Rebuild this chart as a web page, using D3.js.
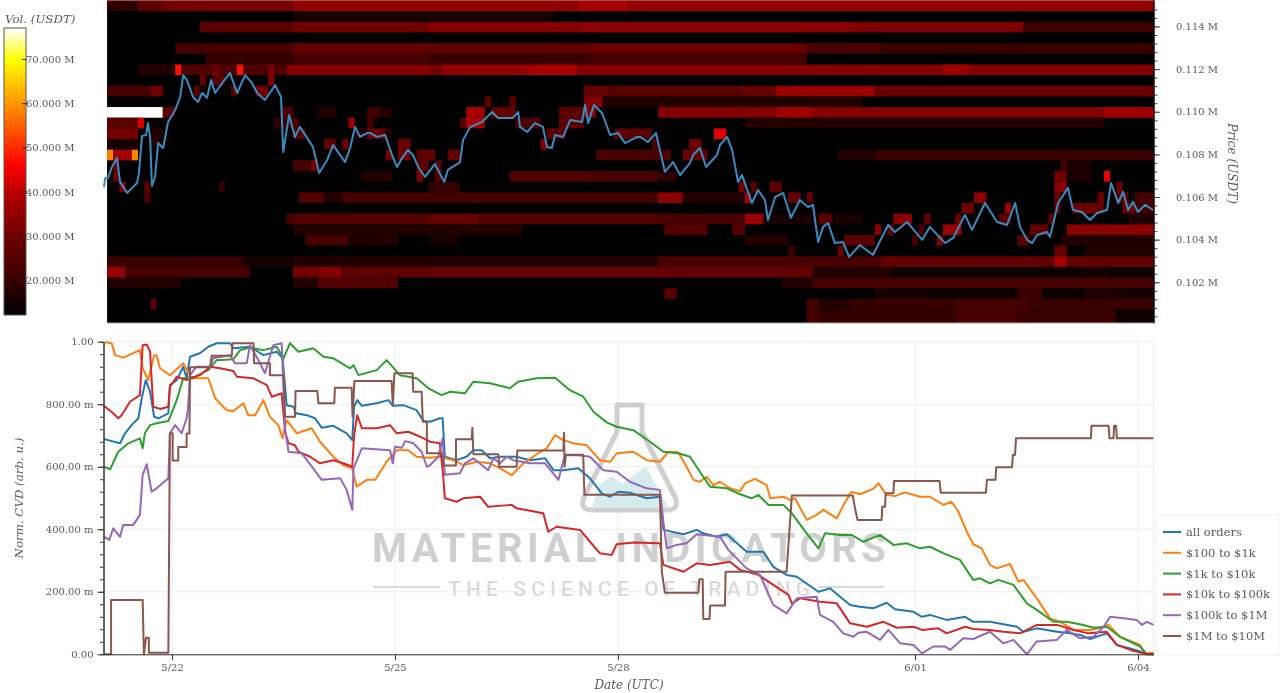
<!DOCTYPE html>
<html>
<head>
<meta charset="utf-8">
<script src="https://cdn.jsdelivr.net/npm/d3@7/dist/d3.min.js"></script>
<style>
html,body{margin:0;padding:0;background:#fff;overflow:hidden}
svg{display:block;filter:blur(0.45px)}
text{font-family:"DejaVu Serif",serif;fill:#5a5a5a}
.wm{font-family:Roboto,sans-serif}
</style>
</head>
<body>
<svg id="c" width="1280" height="693"></svg>
<script>
// ---------- data (hours are counted from 5/22 00:00 UTC) ----------
const dateTicks = [["5/22",0],["5/25",72],["5/28",144],["6/01",240],["6/04",312]];
const priceTicks = [102000,104000,106000,108000,110000,112000,114000];
const volTicks = [20,30,40,50,60,70];
const cvdTicks = [0,.2,.4,.6,.8,1];
const cvdLabels = ["0.00","200.00 m","400.00 m","600.00 m","800.00 m","1.00"];
const seriesNames = ["all orders","$100 to $1k","$1k to $10k","$10k to $100k","$100k to $1M","$1M to $10M"];
const seriesColors = ["#1f77b4","#ff7f0e","#2ca02c","#d62728","#9467bd","#8c564b"];

// [hour, price USDT]
const price = [[-22,106470],[-21.6,106890],[-20.7,106890],[-19.4,107410],[-17.8,107830],[-16.8,106710],[-14.5,106190],[-12.9,106420],[-11.3,106660],[-10.7,107130],[-9.7,108860],[-8.4,108910],[-7.8,109470],[-7.1,108820],[-6.5,106520],[-5.5,106940],[-4.5,108530],[-2.9,108300],[-1.3,109520],[1,110080],[2.6,110690],[3.6,111720],[4.8,111490],[6.8,110690],[8.4,110460],[9.7,110880],[11.3,110650],[12.6,111490],[13.9,110880],[16.2,111350],[18.7,111820],[21,110880],[23.6,111720],[25.8,111350],[27.5,110880],[30,110550],[33.3,111250],[35.2,110690],[35.9,108110],[37.8,109850],[39.7,108820],[41.3,109290],[45.5,108350],[47.5,107130],[50.1,107740],[52,108440],[55.9,107640],[57.5,108300],[59.1,109290],[60.7,108820],[63,109000],[64,109000],[66.2,108820],[68.8,108910],[71.4,107830],[72.7,107410],[74.3,107830],[76.2,108210],[77.8,107970],[79.5,107410],[81.7,106940],[84.9,107550],[87.9,106710],[89.1,107270],[93,107640],[94,108680],[96.3,109290],[100.1,109520],[103.4,109990],[105.3,109710],[110.1,109710],[111.8,109990],[112.4,109290],[114.7,109050],[117.2,109470],[119.8,109290],[121.1,108350],[122.7,108300],[123.7,108910],[126.3,108820],[128.6,109610],[132.4,109520],[133.4,110320],[134.4,109470],[136.3,110320],[138.9,109940],[141.5,108910],[144.1,109000],[146.3,108530],[150.2,108820],[151.2,108820],[153.7,108580],[156.3,109000],[159.2,107180],[161.8,107640],[164.1,107030],[167.3,107600],[168.3,107970],[170.5,108300],[172.5,107410],[176,107970],[177,108440],[179.3,108820],[180.9,108210],[182.8,106710],[184.1,107030],[187.3,105720],[189.3,106330],[191.5,105860],[192.5,104920],[194.8,106000],[197.4,106190],[199.9,105020],[202.8,105860],[205.4,105530],[207,105630],[208.7,103890],[210.3,104600],[211.9,104780],[214.1,103840],[216.7,103890],[218.7,103190],[222.2,103750],[226.4,103280],[231.3,104690],[233.5,104360],[237.4,104830],[242.3,103990],[244.8,104600],[249.7,103840],[252.3,104080],[256.1,105160],[258.4,104460],[262.6,105720],[266.5,104830],[269.7,104690],[272.3,105720],[273.9,104600],[276.2,103990],[277.8,103840],[279.4,104220],[282.6,104360],[283.6,104130],[286.2,105720],[289.4,106430],[291,105390],[293.9,105300],[296.5,104920],[298.8,105250],[302,105390],[303.3,106660],[305.6,105720],[307.2,106240],[308.8,105390],[310.4,105770],[312,105300],[314.3,105630],[316.9,105390]];

// liquidity bins: [price row from the top, first 2h column, end column, volume in M USDT]
const heatSegments = [
[0,0,5,18],[0,5,9,27],[0,9,30,31],[0,30,76,35],[0,76,84,38],[0,84,169,35],
[1,30,72,15],
[2,15,30,26],[2,30,52,30],[2,52,76,33],[2,76,120,34],[2,120,148,32],[2,148,169,21],
[4,11,30,22],[4,30,52,28],[4,52,78,27],[4,78,113,29],[4,113,125,23],[4,125,169,20],
[5,16,30,19],[5,30,52,22],[5,52,78,20],[5,78,113,22],
[6,5,11,17],[6,11,12,47],[6,12,21,24],[6,21,22,47],[6,22,29,24],[6,29,52,33],[6,52,54,31],[6,54,68,35],[6,68,76,38],[6,76,169,33],[6,135,139,36],[6,17,18,30],[6,26,27,31],
[7,15,16,28],[7,17,19,26],[7,26,27,33],
[8,0,7,22],[8,7,9,30],[8,14,15,26],[8,20,21,26],[8,24,26,31],[8,77,81,28],[8,81,102,26],[8,102,108,28],[8,108,124,36],[8,124,169,29],
[9,80,122,17],[9,61,62,28],[9,65,66,26],[9,77,80,33],
[10,0,9,90],[10,9,11,26],[10,28,30,24],[10,34,37,17],[10,42,44,22],[10,44,46,17],[10,58,61,38],[10,62,66,28],[10,73,77,27],[10,77,79,33],[10,89,108,33],[10,108,114,37],[10,114,161,33],[10,161,169,37],
[11,0,5,26],[11,5,6,42],[11,27,29,19],[11,29,31,22],[11,39,40,36],[11,42,43,22],[11,57,58,25],[11,58,61,38],[11,66,70,24],[11,73,77,27],[11,103,161,17],
[12,0,5,31],[12,7,9,17],[12,30,32,26],[12,40,46,16],[12,42,45,28],[12,71,74,27],[12,82,86,27],[12,86,88,26],[12,98,100,43],
[13,0,5,15],[13,7,9,17],[13,35,37,27],[13,38,39,30],[13,47,49,30],[13,70,71,33],[13,88,89,23],[13,94,96,30],
[14,0,1,58],[14,1,4,37],[14,4,5,58],[14,45,46,30],[14,47,49,30],[14,50,52,27],[14,52,53,28],[14,55,57,28],[14,79,90,23],[14,90,91,25],[14,93,94,30],[14,94,97,27],[14,118,124,17],[14,124,169,20],
[15,1,2,29],[15,30,34,22],[15,33,34,31],[15,50,52,27],[15,53,54,27],[15,154,155,22],[15,155,159,16],
[16,1,2,29],[16,41,46,17],[16,50,51,33],[16,53,54,27],[16,65,78,24],[16,78,89,23],[16,89,92,18],[16,161,162,44],[16,153,155,30],[16,155,159,16],
[17,2,3,33],[17,6,7,26],[17,18,19,19],[17,52,57,19],[17,102,103,30],[17,104,105,25],[17,107,109,26],[17,153,155,34],[17,163,164,30],
[18,6,7,24],[18,31,35,25],[18,35,38,17],[18,38,52,22],[18,52,89,22],[18,89,93,34],[18,93,103,17],[18,103,104,38],[18,110,112,28],[18,113,114,28],[18,140,142,34],[18,153,154,30],[18,160,161,30],[18,163,165,26],[18,166,169,22],
[19,138,140,30],[19,145,146,36],[19,153,154,26],[19,156,160,30],[19,160,161,28],[19,164,166,30],[19,166,169,22],
[20,29,30,22],[20,30,52,25],[20,52,60,28],[20,60,89,25],[20,89,103,23],[20,103,106,36],[20,106,122,15],[20,115,117,26],[20,127,130,34],[20,132,133,28],[20,137,138,30],[20,144,146,26],[20,152,153,25],[20,165,169,17],
[21,30,67,17],[21,90,97,25],[21,101,103,26],[21,124,125,34],[21,126,127,28],[21,131,132,22],[21,135,138,36],[21,149,152,28],[21,155,169,34],
[22,32,39,22],[22,39,47,17],[22,52,57,15],[22,103,110,17],[22,119,124,26],[22,130,131,22],[22,134,135,33],[22,147,149,26],[22,154,169,17],
[23,110,111,20],[23,118,119,28],[23,153,155,28],[23,158,169,17],
[24,0,22,20],[24,22,30,15],[24,30,89,17],[24,89,125,23],[24,125,153,28],[24,153,155,38],[24,155,169,28],
[25,0,3,36],[25,3,23,22],[25,30,34,31],[25,34,38,33],[25,38,52,27],[25,52,114,28],[25,114,127,17],[25,127,169,14],[25,157,162,15],
[26,0,12,17],[26,30,34,17],[26,34,47,25],[26,109,114,17],[26,114,169,22],
[27,90,92,26],[27,124,133,15],[27,133,147,14],[27,147,151,21],[27,151,158,14],[27,158,163,17],[27,163,169,15],
[28,7,8,26],[28,113,115,22],[28,115,120,17],[28,120,169,20],[28,137,149,22],
[29,113,115,22],[29,115,137,19],[29,137,147,23],[29,147,163,20],[29,163,169,14]
];

// [hour, normalised CVD]
const cvdAll = [[-22,.689],[-19.5,.682],[-16.8,.675],[-15.2,.707],[-13.1,.733],[-10.9,.755],[-9.8,.819],[-8.5,.877],[-7.1,.84],[-5.8,.76],[-4.4,.755],[-1.2,.771],[-.7,.861],[1.5,.877],[3.6,.92],[4.7,.883],[5.8,.952],[9,.963],[11.7,.984],[14.4,.995],[18.7,.995],[19.8,.979],[25.2,.984],[29.5,.957],[33.8,.968],[35.7,.947],[37,.797],[39.2,.792],[40,.771],[43.5,.765],[46.2,.755],[48.3,.725],[52.1,.731],[56.4,.707],[58.2,.685],[58.8,.792],[59.8,.813],[61.3,.795],[66.1,.803],[69.9,.813],[71.3,.795],[74.7,.797],[79,.781],[81.2,.746],[83.3,.744],[86.5,.755],[87.4,.755],[88.1,.632],[91.9,.621],[95.1,.632],[97.3,.653],[100,.653],[102.7,.627],[105.9,.632],[111.3,.632],[115.6,.621],[120.5,.627],[123.2,.589],[126.4,.589],[131.2,.595],[135,.563],[138.8,.515],[141.5,.504],[144.1,.52],[147.9,.517],[153.3,.499],[157.6,.504],[158.7,.398],[165.2,.384],[169.5,.398],[171.6,.387],[175.9,.376],[179.2,.384],[185.6,.328],[191,.328],[194.2,.28],[198.5,.254],[201.8,.248],[208.8,.2],[212.5,.211],[219,.158],[222.2,.152],[226.5,.147],[230.8,.165],[233.5,.144],[239.5,.136],[242.2,.12],[244.8,.126],[250.2,.11],[256.2,.12],[258.8,.104],[264.2,.104],[272.9,.088],[275,.072],[279.3,.083],[285.8,.072],[290.1,.067],[293.3,.062],[296.5,.049],[301.9,.067],[305.2,.03],[309.5,.019],[312.7,.009],[314.9,0],[317,0]];
const cvd100to1k = [[-21.7,.998],[-19.5,.995],[-18.4,.957],[-15.8,.949],[-10.4,.973],[-9.5,.915],[-7.7,.877],[-5.8,.957],[-5,.957],[-3.9,.915],[-.7,.893],[3.6,.931],[6.3,.883],[11.7,.883],[13.9,.819],[17.6,.781],[19.8,.778],[23,.803],[24.6,.765],[26.8,.765],[29.5,.813],[31.6,.76],[34.3,.733],[35.7,.691],[37,.749],[40.3,.707],[45.1,.723],[47.8,.68],[52.1,.632],[55.3,.605],[58.2,.595],[59.6,.536],[62.9,.558],[65.6,.558],[69.3,.616],[72.6,.653],[76.3,.653],[79,.632],[82.8,.629],[86.5,.632],[90.8,.621],[94.1,.605],[98.4,.616],[102.7,.611],[105.9,.595],[109.7,.573],[113.5,.611],[117.8,.64],[121,.659],[123.7,.701],[126.4,.685],[129.6,.675],[133.9,.669],[138.2,.621],[141.5,.616],[143.6,.643],[149,.648],[153.3,.621],[157.6,.616],[160.3,.648],[163.5,.646],[166.2,.6],[168.4,.558],[170.5,.552],[172.7,.568],[174.8,.541],[177,.552],[180.2,.531],[183.5,.522],[185.1,.547],[188.3,.561],[192.1,.541],[193.2,.499],[197.5,.504],[199.6,.494],[201.2,.499],[205,.43],[208.2,.446],[210.4,.462],[214.7,.435],[216.9,.478],[219.5,.52],[222.2,.512],[226.5,.529],[228.2,.547],[230.8,.51],[233.5,.506],[236.8,.518],[241.6,.504],[244.8,.504],[249.2,.478],[251.8,.488],[254,.456],[256.7,.392],[258.8,.352],[261.5,.339],[264.2,.286],[266.4,.275],[270.7,.289],[273.4,.232],[275,.238],[279.3,.179],[283.6,.115],[286.9,.104],[291.2,.078],[296.5,.078],[299.2,.083],[302.5,.094],[306.2,.056],[312.7,.03],[314.3,0],[317,.006]];
const cvd1kto10k = [[-22,.6],[-20,.592],[-17.4,.648],[-14.1,.675],[-10.4,.691],[-9.5,.659],[-8.8,.707],[-7.1,.733],[-5,.739],[-1.2,.746],[1.5,.813],[3.6,.883],[7.4,.888],[11.7,.909],[14.4,.941],[19.8,.944],[22,.973],[25.2,.981],[29.5,.973],[33.8,.984],[36,.947],[38.1,.995],[40.8,.968],[45.6,.979],[48.9,.952],[52.1,.947],[57.5,.915],[58.6,.925],[60.2,.893],[66.1,.909],[69.3,.941],[73.6,.893],[79,.883],[82.8,.851],[87.1,.829],[89.8,.84],[94.6,.835],[97.3,.872],[102.7,.867],[109.1,.851],[111.8,.872],[117.8,.883],[123.7,.885],[128.5,.845],[132.8,.824],[136.1,.776],[140.4,.742],[143.6,.728],[149,.717],[154.4,.68],[158.7,.648],[163.5,.643],[167.3,.632],[170.5,.584],[173.8,.536],[179.2,.531],[183.5,.512],[187.2,.499],[189.4,.51],[192.6,.478],[197.5,.478],[200.2,.451],[205,.387],[208.8,.339],[210.9,.387],[215.8,.382],[219.5,.382],[223.3,.36],[228.7,.382],[233,.35],[237.3,.355],[241.6,.339],[244.8,.344],[249.2,.323],[254.5,.302],[258.8,.238],[261,.243],[264.2,.227],[266.9,.238],[271.8,.222],[276.1,.163],[279.3,.142],[284.7,.104],[289,.104],[294.4,.094],[297.6,.085],[301.9,.088],[306.2,.056],[312.7,.025],[314.9,0],[317,0]];
const cvd10kto100k = [[-22,.795],[-19,.771],[-17.4,.755],[-16.3,.765],[-13.6,.808],[-10.4,.829],[-9.5,.989],[-8.2,.991],[-7.1,.968],[-6.1,.792],[-3.9,.785],[-1.2,.792],[-.7,.856],[1.5,.888],[4.7,.877],[9,.893],[12.3,.92],[15.5,.915],[19.8,.906],[20.9,.888],[26.3,.883],[30.6,.861],[32.2,.824],[35.4,.835],[36.5,.712],[37.6,.675],[39.7,.669],[40.8,.648],[44.6,.632],[47.8,.611],[52.1,.621],[55.3,.611],[58.2,.6],[58.8,.701],[59.8,.765],[61.3,.723],[66.1,.723],[70.4,.733],[72.6,.707],[76.3,.712],[80.1,.696],[83.3,.68],[86.5,.675],[87.6,.568],[88.1,.499],[91.9,.488],[94.1,.499],[99.5,.504],[102.1,.472],[109.7,.478],[111.3,.467],[119.9,.451],[121.5,.392],[124.2,.408],[131.8,.398],[135,.36],[138.2,.323],[142,.318],[143.6,.352],[149,.358],[157.6,.355],[158.7,.286],[165.2,.264],[169.5,.291],[173.8,.286],[180.2,.296],[183.5,.27],[189.4,.254],[194.2,.222],[199.1,.19],[200.2,.163],[202.9,.179],[209.3,.168],[214.7,.163],[219,.099],[224.4,.088],[229.8,.104],[234.1,.085],[239.5,.088],[242.2,.078],[247.5,.083],[250.2,.067],[256.2,.088],[258.8,.081],[264.2,.078],[268.5,.072],[273.9,.067],[279.3,.094],[285.8,.094],[291.2,.078],[296,.067],[301.9,.072],[305.2,.03],[309.5,.014],[313.8,.003],[317,0]];
const cvd100kto1M = [[-22,.376],[-20.3,.366],[-19,.403],[-16.8,.376],[-15.8,.414],[-12.5,.414],[-10.4,.446],[-9.5,.574],[-8.2,.608],[-6.6,.52],[-5,.531],[-1.2,.563],[-.7,.707],[1,.733],[3.1,.707],[4.7,.755],[5.2,.792],[5.8,.893],[7.9,.92],[12.3,.92],[13.3,.947],[18.7,.957],[20.3,.931],[24.1,.931],[25.2,.989],[27.9,.941],[30,.899],[32.7,.989],[35.4,.995],[36.5,.723],[37.6,.648],[41.9,.643],[45.6,.595],[48.3,.558],[54.3,.563],[56.4,.526],[58.2,.462],[58.6,.595],[61.3,.659],[70.4,.653],[71.3,.611],[72,.664],[74.2,.661],[75.3,.682],[77.9,.675],[80.6,.648],[82.3,.6],[83.3,.605],[86,.632],[87.4,.691],[88.1,.574],[93,.579],[94.6,.611],[97.3,.627],[102.1,.589],[103.8,.627],[105.9,.611],[108.1,.632],[110.2,.621],[115.6,.611],[120.5,.611],[124.8,.558],[126.9,.637],[131.2,.637],[135,.632],[139.3,.589],[143.6,.584],[147.9,.552],[153.3,.531],[157.6,.526],[158.7,.424],[159.8,.339],[163,.35],[166.2,.355],[169.5,.384],[177,.376],[179.7,.334],[185.6,.275],[189.9,.254],[194.2,.158],[198.5,.131],[201.8,.179],[208.2,.184],[209.3,.126],[213.6,.104],[216.8,.067],[220.1,.056],[221.7,.069],[224.4,.072],[228.7,.046],[231.4,.078],[235.2,.035],[239.5,.03],[242.2,.003],[245.9,.025],[249.7,.025],[251.3,.014],[255.6,.051],[258.8,.049],[264.2,.072],[268.5,.035],[271.8,.046],[276.1,0],[279.3,.041],[285.8,.046],[289,.078],[293.3,.051],[297.6,.056],[300.9,.088],[303,.12],[307.3,.115],[311.6,.11],[313.2,.094],[314.9,.104],[317,.094]];
const cvd1Mto10M = [[-22.2,0],[-19.7,0],[-19.7,.174],[-9.5,.174],[-9.1,0],[-8.4,.053],[-7.5,.053],[-7.5,.005],[-1.2,.005],[-.7,.707],[.2,.707],[.2,.62],[2,.62],[2,.663],[4.7,.663],[4.7,.706],[5.6,.706],[5.8,.918],[12.3,.918],[12.8,.955],[19.3,.955],[19.5,.995],[26.3,.995],[26.5,.931],[31.6,.931],[31.6,.893],[36,.893],[36.5,.76],[39.7,.76],[39.9,.842],[46.9,.842],[47.3,.803],[52.4,.803],[52.6,.853],[58,.853],[58.3,.76],[58.9,.874],[70.9,.874],[71.3,.797],[71.8,.899],[77.7,.899],[77.9,.84],[80.6,.84],[81,.744],[82.3,.744],[82.3,.643],[87.1,.643],[87.8,.604],[91.7,.604],[91.7,.688],[96.8,.688],[97,.725],[97.3,.64],[105.4,.64],[105.7,.6],[111.3,.6],[111.5,.652],[126.4,.652],[126.6,.709],[126.8,.6],[127.2,.638],[132.8,.638],[133.2,.51],[157.6,.51],[158.2,.264],[159.2,.197],[170,.197],[170.3,.24],[171.4,.24],[171.6,.113],[173.6,.113],[173.8,.156],[178.6,.156],[178.8,.264],[198.5,.264],[199.1,.35],[200.2,.508],[219.9,.508],[220.6,.467],[221.4,.43],[229.2,.43],[229.4,.472],[230.3,.472],[230.5,.515],[233,.515],[233.2,.554],[247.9,.554],[248.3,.517],[262.9,.517],[263.2,.558],[266,.558],[266.2,.598],[271.3,.598],[271.6,.638],[272.3,.638],[272.6,.691],[296.8,.691],[297,.731],[302.5,.731],[302.8,.691],[304.1,.691],[304.3,.731],[304.9,.731],[305.2,.691],[317,.691]];
const cvdSeries = [cvdAll,cvd100to1k,cvd1kto10k,cvd10kto100k,cvd100kto1M,cvd1Mto10M];

// ---------- layout ----------
const W = {left:103.5,right:1153.6,heatLeft:107,heatTop:0,heatBottom:323,cvdTop:341.7,cvdBottom:654.3,
           barLeft:4,barRight:26,barTop:28,barBottom:315};
const base = Date.UTC(2025,4,22);
const toDate = h => new Date(base + h*3600e3);
const hourOfCol = c => -21 + 2*c;
const rowTop = k => 115220 - 500*k;

const svg = d3.select("#c");
const x = d3.scaleUtc().domain([toDate(-22.15),toDate(317.05)]).range([W.left,W.right]);
const yP = d3.scaleLinear().domain([100090,115242]).range([W.heatBottom,W.heatTop]);
const yC = d3.scaleLinear().domain([0,1]).range([W.cvdBottom,W.cvdTop]);
const yV = d3.scaleLinear().domain([12.1,77.15]).range([W.barBottom,W.barTop]);
const hotStops = [12,22,30,38,46,58,70,77];
const hot = d3.scaleLinear().domain(hotStops).range(["#000000","#450000","#6e0000","#a80000","#ff0000","#ff8000","#ffff00","#ffffff"]).clamp(true);

const defs = svg.append("defs");
defs.append("filter").attr("id","soft").attr("x","-2%").attr("y","-2%").attr("width","104%").attr("height","104%")
  .append("feGaussianBlur").attr("stdDeviation","0.7");
const grad = defs.append("linearGradient").attr("id","barGrad").attr("x1",0).attr("x2",0).attr("y1",1).attr("y2",0);
grad.selectAll("stop").data(hotStops).join("stop")
  .attr("offset",d=>Math.max(0,(d-12.1)/(77.15-12.1))).attr("stop-color",d=>hot(d));

// ---------- heat map ----------
const gHeat = svg.append("g").attr("filter","url(#soft)");
gHeat.append("rect").attr("x",x(toDate(hourOfCol(0)))).attr("y",W.heatTop)
  .attr("width",x(toDate(hourOfCol(169)))-x(toDate(hourOfCol(0)))+.5).attr("height",W.heatBottom-W.heatTop).attr("fill","#000");
gHeat.selectAll("rect.cell").data(heatSegments).join("rect").attr("class","cell")
  .attr("x",d=>x(toDate(hourOfCol(d[1]))))
  .attr("width",d=>x(toDate(hourOfCol(d[2])))-x(toDate(hourOfCol(d[1]))))
  .attr("y",d=>d[0]===0?W.heatTop:yP(rowTop(d[0])))
  .attr("height",d=>(d[0]===29?W.heatBottom:yP(rowTop(d[0]+1)))-(d[0]===0?W.heatTop:yP(rowTop(d[0]))))
  .attr("fill",d=>hot(d[3]));
svg.append("line").attr("x1",W.heatLeft).attr("x2",W.right).attr("y1",W.heatBottom).attr("y2",W.heatBottom).attr("stroke","#b9a0a0").attr("stroke-width",1);
svg.append("line").attr("x1",W.heatLeft).attr("x2",W.right).attr("y1",.5).attr("y2",.5).attr("stroke","#a05050").attr("stroke-width",1);

// price line
svg.append("path").datum(price).attr("fill","none").attr("stroke","#3a8bc2").attr("stroke-width",2).attr("stroke-linejoin","round")
  .attr("d",d3.line().x(d=>x(toDate(d[0]))).y(d=>yP(d[1])));

// right price axis
const rightX = W.right+.4;
const axP = svg.append("g").attr("transform",`translate(${rightX},0)`);
axP.call(d3.axisRight(yP).tickValues(d3.range(100400,115200,400)).tickSize(3.5).tickFormat("").tickSizeOuter(0));
axP.append("g").call(d3.axisRight(yP).tickValues(priceTicks).tickSize(6).tickPadding(16).tickSizeOuter(0)
  .tickFormat(d=>(d/1e6).toFixed(3)+" M"));
axP.selectAll("path").attr("stroke","#444");
axP.selectAll("line").attr("stroke","#444");
axP.selectAll("text").style("font-size","10px").attr("fill","#5a5a5a");
svg.append("text").attr("transform",`translate(1228,163.5) rotate(90)`).attr("text-anchor","middle")
  .attr("font-style","italic").style("font-size","12px").text("Price (USDT)");

// colour bar
const gBar = svg.append("g");
gBar.append("rect").attr("x",W.barLeft).attr("y",W.barTop).attr("width",W.barRight-W.barLeft).attr("height",W.barBottom-W.barTop)
  .attr("fill","url(#barGrad)").attr("stroke","#555").attr("stroke-width",1);
const axV = gBar.append("g").attr("transform",`translate(${W.barRight},0)`)
  .call(d3.axisRight(yV).tickValues(volTicks).tickSize(0).tickPadding(0).tickFormat(d=>d.toFixed(3)+" M"));
axV.select("path").remove();
axV.selectAll("text").style("font-size","10px").attr("fill","#5a5a5a");
gBar.selectAll("line.vt").data(volTicks).join("line").attr("class","vt").attr("x1",W.barRight-4).attr("x2",W.barRight+1)
  .attr("y1",d=>yV(d)).attr("y2",d=>yV(d)).attr("stroke","#333").attr("stroke-width",1);
svg.append("text").attr("x",5).attr("y",23).attr("font-style","italic").style("font-size","11.8px").text("Vol. (USDT)");

// ---------- CVD panel ----------
const gGrid = svg.append("g").attr("stroke","#ececec").attr("stroke-width",1);
gGrid.selectAll("line.h").data(cvdTicks).join("line").attr("class","h").attr("x1",W.left).attr("x2",W.right).attr("y1",d=>yC(d)).attr("y2",d=>yC(d));
gGrid.selectAll("line.v").data(dateTicks).join("line").attr("class","v").attr("y1",W.cvdTop).attr("y2",W.cvdBottom)
  .attr("x1",d=>x(toDate(d[1]))).attr("x2",d=>x(toDate(d[1])));
gGrid.append("line").attr("x1",W.right).attr("x2",W.right).attr("y1",W.cvdTop).attr("y2",W.cvdBottom);

// watermark
const wm = svg.append("g");
wm.append("path").attr("d","M592,507 L600,484 L612,476 L622,484 L646,466 L668,507 Z").attr("fill","#d6ebee");
wm.append("path").attr("d","M617,405 L642,405 L642,432 L675,497 Q680,510 667,510 L592,510 Q579,510 584,497 L617,432 Z")
  .attr("fill","none").attr("stroke","#cfcfcf").attr("stroke-width",5).attr("stroke-linejoin","round");
wm.append("text").attr("class","wm").attr("x",372).attr("y",562).attr("textLength",514).attr("lengthAdjust","spacing")
  .style("font-size","40px").style("font-weight","700").style("fill","#cfcfcf").text("MATERIAL INDICATORS");
wm.append("text").attr("class","wm").attr("x",448).attr("y",596).attr("textLength",362).attr("lengthAdjust","spacing")
  .style("font-size","21px").style("font-weight","500").style("fill","#dadada").text("THE SCIENCE OF TRADING");
wm.selectAll("line").data([[373,440],[818,884]]).join("line").attr("x1",d=>d[0]).attr("x2",d=>d[1]).attr("y1",587).attr("y2",587)
  .attr("stroke","#dadada").attr("stroke-width",2);

// series
svg.append("g").selectAll("path").data(cvdSeries).join("path").attr("fill","none")
  .attr("stroke",(d,i)=>seriesColors[i]).attr("stroke-width",2).attr("stroke-linejoin","round")
  .attr("d",d3.line().x(d=>x(toDate(d[0]))).y(d=>yC(d[1])));

// axes
const axC = svg.append("g").attr("transform",`translate(${W.left},0)`);
axC.call(d3.axisLeft(yC).tickValues(d3.range(0,1.001,.04)).tickSize(3.5).tickFormat("").tickSizeOuter(0));
axC.append("g").call(d3.axisLeft(yC).tickValues(cvdTicks).tickSize(6).tickPadding(4).tickSizeOuter(0)
  .tickFormat((d,i)=>cvdLabels[i]));
axC.selectAll("path,line").attr("stroke","#333");
axC.selectAll("text").style("font-size","10px").attr("fill","#5a5a5a");
const axX = svg.append("g").attr("transform",`translate(0,${W.cvdBottom})`)
  .call(d3.axisBottom(x).tickValues(dateTicks.map(d=>toDate(d[1]))).tickSize(6).tickPadding(4).tickSizeOuter(0)
  .tickFormat((d,i)=>dateTicks[i][0]));
axX.selectAll("path,line").attr("stroke","#333");
axX.selectAll("text").style("font-size","10px").attr("fill","#5a5a5a");
svg.append("text").attr("x",629).attr("y",689).attr("text-anchor","middle").attr("font-style","italic").style("font-size","12px").text("Date (UTC)");
svg.append("text").attr("transform","translate(23,498) rotate(-90)").attr("text-anchor","middle").attr("font-style","italic").style("font-size","11.8px").text("Norm. CVD (arb. u.)");

// legend
const leg = svg.append("g");
leg.append("rect").attr("x",1156).attr("y",515).attr("width",124).attr("height",140).attr("fill","#fff").attr("stroke","#f2f2f2");
const rows = leg.selectAll("g").data(seriesNames).join("g").attr("transform",(d,i)=>`translate(0,${532+i*20.8})`);
rows.append("line").attr("x1",1163).attr("x2",1181).attr("stroke",(d,i)=>seriesColors[i]).attr("stroke-width",2);
rows.append("text").attr("x",1186).attr("dy","0.35em").style("font-size","11.5px").text(d=>d);
</script>
</body>
</html>
